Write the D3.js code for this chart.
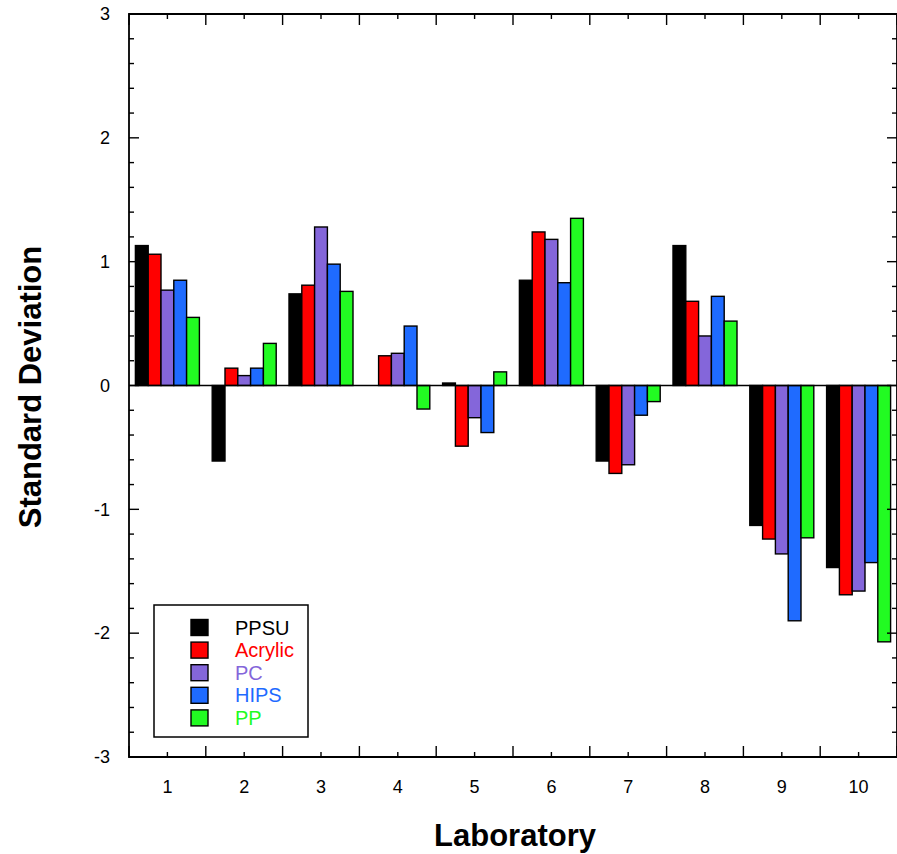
<!DOCTYPE html>
<html><head><meta charset="utf-8">
<script src="https://cdn.jsdelivr.net/npm/d3@7"></script>
<style>body{margin:0;background:#fff}svg{display:block}text{font-family:"Liberation Sans",Arial,Helvetica,sans-serif}</style>
</head><body>
<svg id="c" width="897" height="854"></svg>
<script>
const labs = ["1","2","3","4","5","6","7","8","9","10"];
const seriesNames = ["PPSU","Acrylic","PC","HIPS","PP"];
const seriesColors = ["#000000","#ff0000","#8466da","#1f6bff","#22fb22"];
const PPSU    = [1.13, -0.61, 0.74, 0.00, 0.02, 0.85, -0.61, 1.13, -1.13, -1.47];
const Acrylic = [1.06, 0.14, 0.81, 0.24, -0.49, 1.24, -0.71, 0.68, -1.24, -1.69];
const PC      = [0.77, 0.08, 1.28, 0.26, -0.26, 1.18, -0.64, 0.40, -1.36, -1.66];
const HIPS    = [0.85, 0.14, 0.98, 0.48, -0.38, 0.83, -0.24, 0.72, -1.90, -1.43];
const PP      = [0.55, 0.34, 0.76, -0.19, 0.11, 1.35, -0.13, 0.52, -1.23, -2.07];
const yTicks = [-3,-2,-1,0,1,2,3];
const seriesValues = [PPSU, Acrylic, PC, HIPS, PP];

const svg = d3.select("#c");
const L = 129, R = 897, T = 14, B = 757;

const x0 = d3.scaleBand().domain(labs).range([L, R]).padding(0);
const x1 = d3.scaleBand().domain(seriesNames).range([0, x0.bandwidth()]).paddingInner(0).paddingOuter(0.5);
const y = d3.scaleLinear().domain([-3, 3]).range([B, T]);

// bars
labs.forEach((lab, i) => {
  const g = svg.append("g").attr("transform", `translate(${x0(lab)},0)`);
  seriesNames.forEach((s, j) => {
    const v = seriesValues[j][i];
    if (v === 0) return;
    g.append("rect")
      .attr("x", x1(s)).attr("width", x1.bandwidth())
      .attr("y", y(Math.max(0, v))).attr("height", Math.abs(y(v) - y(0)))
      .attr("fill", seriesColors[j]).attr("stroke", "#000").attr("stroke-width", 1.4);
  });
});

// zero line
svg.append("line").attr("x1", L).attr("x2", R).attr("y1", y(0)).attr("y2", y(0))
  .attr("stroke", "#000").attr("stroke-width", 1.6);

// frame
const frame = svg.append("g").attr("stroke", "#000").attr("stroke-width", 1.8).attr("fill","none");
frame.append("path").attr("d", `M${L},${T}H${R}V${B}H${L}Z`);

// y ticks
const minorY = d3.range(-3, 3.0001, 0.2).map(v => +v.toFixed(1));
minorY.forEach(v => {
  const major = Math.abs(v - Math.round(v)) < 1e-6;
  const len = major ? 10 : 5;
  frame.append("line").attr("x1", L).attr("x2", L + len).attr("y1", y(v)).attr("y2", y(v)).attr("stroke-width", 1.4);
  frame.append("line").attr("x1", R).attr("x2", R - len).attr("y1", y(v)).attr("y2", y(v)).attr("stroke-width", 1.4);
});
svg.append("g").selectAll("text").data(yTicks).join("text")
  .attr("x", 110).attr("y", d => y(d)).attr("dy", "0.35em").attr("text-anchor", "end")
  .attr("font-size", 18).text(d => d);

// x ticks
const bounds = labs.map(l => x0(l)).concat([R]);
bounds.forEach(bx => {
  frame.append("line").attr("x1", bx).attr("x2", bx).attr("y1", B).attr("y2", B - 11).attr("stroke-width", 1.4);
  frame.append("line").attr("x1", bx).attr("x2", bx).attr("y1", T).attr("y2", T + 11).attr("stroke-width", 1.4);
});
labs.forEach(l => {
  const cx = x0(l) + x0.bandwidth() / 2;
  frame.append("line").attr("x1", cx).attr("x2", cx).attr("y1", B).attr("y2", B - 5).attr("stroke-width", 1.4);
  frame.append("line").attr("x1", cx).attr("x2", cx).attr("y1", T).attr("y2", T + 5).attr("stroke-width", 1.4);
});
svg.append("g").selectAll("text").data(labs).join("text")
  .attr("x", d => x0(d) + x0.bandwidth() / 2).attr("y", 787).attr("dy", "0.35em")
  .attr("text-anchor", "middle").attr("font-size", 18).text(d => d);

// titles
svg.append("text").attr("x", 515).attr("y", 846).attr("text-anchor", "middle")
  .attr("font-size", 31).attr("font-weight", "bold").text("Laboratory");
svg.append("text").attr("transform", "translate(41,387) rotate(-90)").attr("text-anchor", "middle")
  .attr("font-size", 31).attr("font-weight", "bold").text("Standard Deviation");

// legend
const lg = svg.append("g").attr("transform", "translate(154,605)");
lg.append("rect").attr("width", 154).attr("height", 132).attr("fill", "#fff")
  .attr("stroke", "#000").attr("stroke-width", 1.5);
seriesNames.forEach((s, j) => {
  const cy = 22.5 + j * 22.6;
  lg.append("rect").attr("x", 37).attr("y", cy - 8).attr("width", 17).attr("height", 16)
    .attr("fill", seriesColors[j]).attr("stroke", "#000").attr("stroke-width", 1.4);
  lg.append("text").attr("x", 81).attr("y", cy).attr("dy", "0.35em")
    .attr("font-size", 20).attr("fill", seriesColors[j]).text(s);
});
</script>
</body></html>
